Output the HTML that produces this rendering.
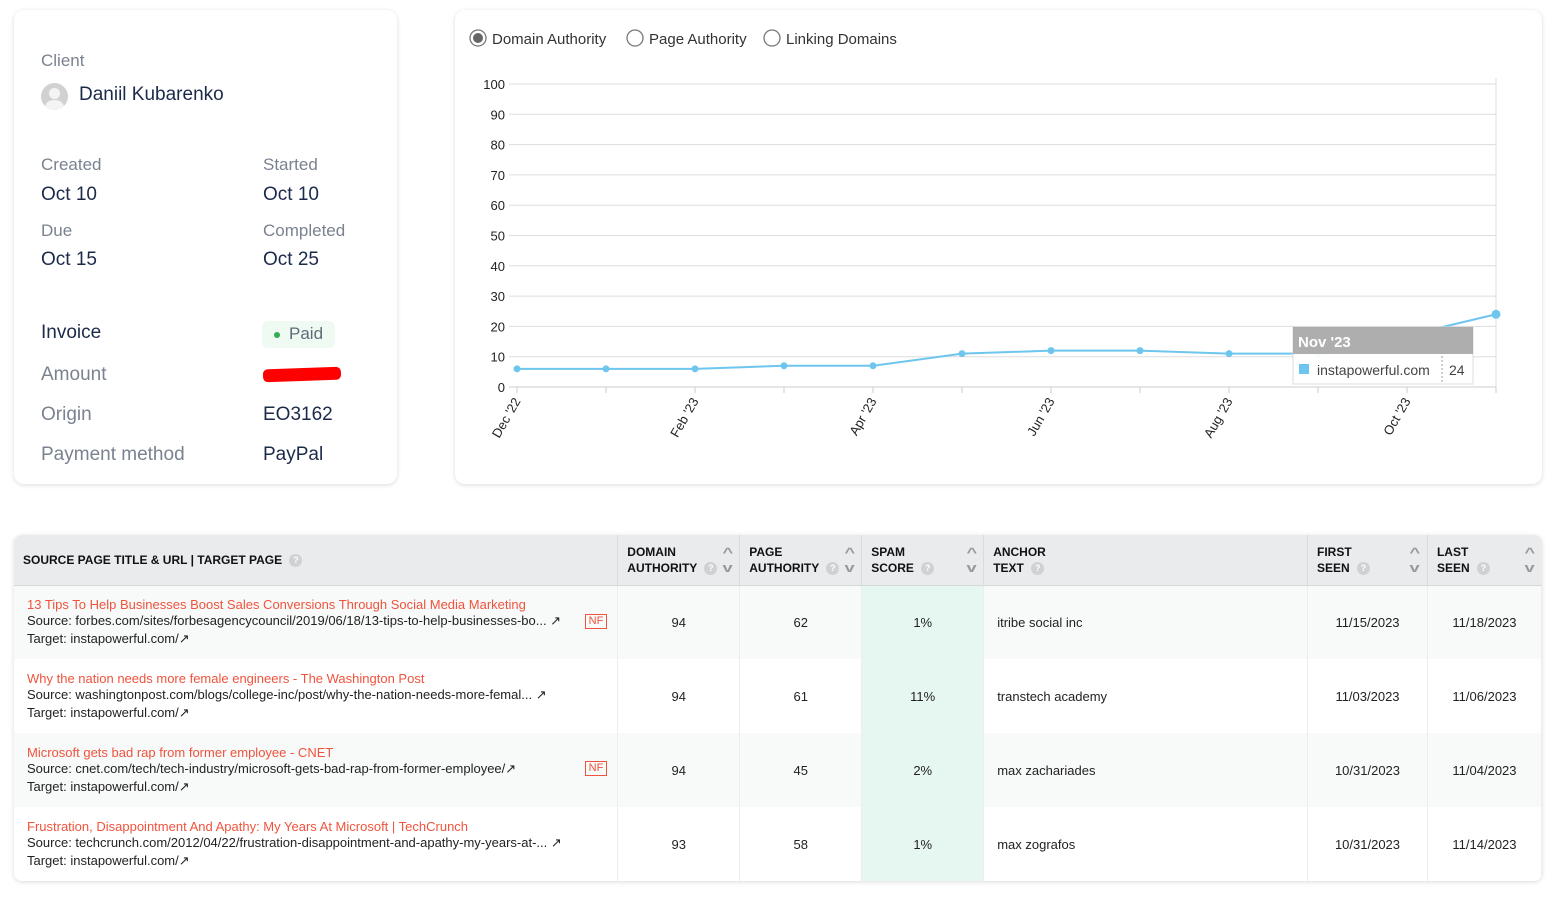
<!DOCTYPE html>
<html><head><meta charset="utf-8">
<style>
*{box-sizing:border-box;margin:0;padding:0}
body{width:1556px;height:899px;background:#fff;font-family:"Liberation Sans",sans-serif;position:relative;overflow:hidden;color:#1f2a44}
.card{position:absolute;background:#fff;border-radius:10px;box-shadow:0 1px 5px rgba(0,0,0,.15)}
.abs{position:absolute;white-space:nowrap}
.lbl{color:#7a8290;font-size:17px}
.val{color:#1c2a4a;font-size:19px}
.tw{position:absolute;left:14px;top:535px;width:1528px;height:346px;border-radius:8px;box-shadow:0 1px 5px rgba(0,0,0,.15);overflow:hidden}
table{border-collapse:collapse;width:1528px;font-size:13px;color:#222}
th{background:#e9ebec;height:50px;text-align:left;font-size:12px;font-weight:bold;color:#111;padding:0 9px;border-right:1px solid #d8dcdc;border-bottom:1px solid #d5d9d9;vertical-align:middle;position:relative;line-height:16px}
td{height:74px;border-right:1px solid #eceeee;vertical-align:middle}
tr.r td{background:#f8f9f9}
tr.w td{background:#fff}
td.c{text-align:center}
td.spam{background:#e6f6f1!important;text-align:center}
.q{display:inline-block;width:13px;height:13px;border-radius:50%;background:#cfd2d4;color:#fff;font-size:9px;text-align:center;line-height:13px;vertical-align:middle;margin-left:4px}
.sort{position:absolute;right:8px;top:10px;color:#999;font-size:13px;line-height:15px;transform:scaleX(1.4)}
.title{color:#f0533d;font-size:13px}
.line{font-size:13px;line-height:18px}
.nf{position:absolute;right:10px;top:28px;border:1px solid #f0533d;color:#f0533d;font-size:11px;padding:0 3px;line-height:13px}
</style></head><body>

<div class="card" style="left:14px;top:10px;width:383px;height:474px">
<div class="abs lbl" style="left:27px;top:41px">Client</div>
<div class="abs" style="left:27px;top:73px;width:27px;height:27px;border-radius:50%;background:#d1d1d1;overflow:hidden"><div style="position:absolute;left:8px;top:5px;width:11px;height:11px;border-radius:50%;background:#f4f4f4"></div><div style="position:absolute;left:4px;top:17px;width:19px;height:14px;border-radius:50%;background:#f4f4f4"></div></div>
<div class="abs val" style="left:65px;top:74px">Daniil Kubarenko</div>
<div class="abs lbl" style="left:27px;top:145px">Created</div>
<div class="abs val" style="left:27px;top:174px">Oct 10</div>
<div class="abs lbl" style="left:249px;top:145px">Started</div>
<div class="abs val" style="left:249px;top:174px">Oct 10</div>
<div class="abs lbl" style="left:27px;top:211px">Due</div>
<div class="abs val" style="left:27px;top:239px">Oct 15</div>
<div class="abs lbl" style="left:249px;top:211px">Completed</div>
<div class="abs val" style="left:249px;top:239px">Oct 25</div>
<div class="abs" style="left:27px;top:312px;font-size:19px;color:#1c2a4a">Invoice</div>
<div class="abs" style="left:248px;top:311px;width:73px;height:27px;border-radius:6px;background:#eefaf2;font-size:17px;color:#5f6a7a;padding:3px 0 0 27px"><span style="position:absolute;left:12px;top:11px;width:6px;height:6px;border-radius:50%;background:#2eb050"></span>Paid</div>
<div class="abs lbl" style="left:27px;top:354px;font-size:19px">Amount</div>
<div class="abs" style="left:249px;top:358px;width:78px;height:13px;background:#f00;border-radius:5px;transform:rotate(-2deg)"></div>
<div class="abs lbl" style="left:27px;top:394px;font-size:19px">Origin</div>
<div class="abs val" style="left:249px;top:394px">EO3162</div>
<div class="abs lbl" style="left:27px;top:434px;font-size:19px">Payment method</div>
<div class="abs val" style="left:249px;top:434px">PayPal</div>
</div>

<div class="card" style="left:455px;top:10px;width:1087px;height:474px">
<svg width="1087" height="474" style="position:absolute;left:0;top:0" id="chart"></svg>
</div>

<div class="tw">
<table>
<tr>
<th style="width:604px">SOURCE PAGE TITLE &amp; URL | TARGET PAGE <span class="q">?</span></th>
<th style="width:122px">DOMAIN<br>AUTHORITY <span class="q">?</span><span class="sort">^<br>v</span></th>
<th style="width:122px">PAGE<br>AUTHORITY <span class="q">?</span><span class="sort">^<br>v</span></th>
<th style="width:122px">SPAM<br>SCORE <span class="q">?</span><span class="sort">^<br>v</span></th>
<th style="width:324px">ANCHOR<br>TEXT <span class="q">?</span></th>
<th style="width:120px">FIRST<br>SEEN <span class="q">?</span><span class="sort">^<br>v</span></th>
<th style="width:114px;border-right:none">LAST<br>SEEN <span class="q">?</span><span class="sort">^<br>v</span></th>
</tr>
<tr class="r">
<td style="position:relative;padding-left:13px"><div class="title">13 Tips To Help Businesses Boost Sales Conversions Through Social Media Marketing</div><div class="line">Source: forbes.com/sites/forbesagencycouncil/2019/06/18/13-tips-to-help-businesses-bo... ↗</div><div class="line">Target: instapowerful.com/↗</div><span class="nf">NF</span></td>
<td class="c">94</td><td class="c">62</td><td class="spam">1%</td><td style="padding-left:13px">itribe social inc</td><td class="c">11/15/2023</td><td class="c">11/18/2023</td></tr>
<tr class="w">
<td style="position:relative;padding-left:13px"><div class="title">Why the nation needs more female engineers - The Washington Post</div><div class="line">Source: washingtonpost.com/blogs/college-inc/post/why-the-nation-needs-more-femal... ↗</div><div class="line">Target: instapowerful.com/↗</div></td>
<td class="c">94</td><td class="c">61</td><td class="spam">11%</td><td style="padding-left:13px">transtech academy</td><td class="c">11/03/2023</td><td class="c">11/06/2023</td></tr>
<tr class="r">
<td style="position:relative;padding-left:13px"><div class="title">Microsoft gets bad rap from former employee - CNET</div><div class="line">Source: cnet.com/tech/tech-industry/microsoft-gets-bad-rap-from-former-employee/↗</div><div class="line">Target: instapowerful.com/↗</div><span class="nf">NF</span></td>
<td class="c">94</td><td class="c">45</td><td class="spam">2%</td><td style="padding-left:13px">max zachariades</td><td class="c">10/31/2023</td><td class="c">11/04/2023</td></tr>
<tr class="w">
<td style="position:relative;padding-left:13px"><div class="title">Frustration, Disappointment And Apathy: My Years At Microsoft | TechCrunch</div><div class="line">Source: techcrunch.com/2012/04/22/frustration-disappointment-and-apathy-my-years-at-... ↗</div><div class="line">Target: instapowerful.com/↗</div></td>
<td class="c">93</td><td class="c">58</td><td class="spam">1%</td><td style="padding-left:13px">max zografos</td><td class="c">10/31/2023</td><td class="c">11/14/2023</td></tr>
</table>
</div>

<script>
const months = ["Dec '22","Jan '23","Feb '23","Mar '23","Apr '23","May '23","Jun '23","Jul '23","Aug '23","Sep '23","Oct '23","Nov '23"];
const daValues = [6,6,6,7,7,11,12,12,11,11,17,24];
const yTicks = [0,10,20,30,40,50,60,70,80,90,100];
const radioLabels = ["Domain Authority","Page Authority","Linking Domains"];
const tipIndex = 11;

const svg = document.getElementById('chart');
const NS = 'http://www.w3.org/2000/svg';
const X0 = 62, X1 = 1041, Y0 = 377, Y1 = 74;
const xs = i => X0 + (X1 - X0) * i / (months.length - 1);
const ys = v => Y0 - (Y0 - Y1) * v / 100;
function mk(tag, attrs, txt){const e=document.createElementNS(NS,tag);for(const k in attrs)e.setAttribute(k,attrs[k]);if(txt!==undefined)e.textContent=txt;svg.appendChild(e);return e;}

let rx = 14;
const rw = [157, 137, 140];
radioLabels.forEach((l,i)=>{
  const c = mk('circle',{cx:rx+9,cy:28,r:8,fill:'#fff',stroke:'#777','stroke-width':1.3});
  
  
  if(i===0){const d=mk('circle',{cx:rx+9,cy:28,r:5,fill:'#666'});}
  const t = mk('text',{x:rx+23,y:34,'font-size':15,fill:'#333','font-family':'Liberation Sans'},l);
  
  
  rx += rw[i];
});

yTicks.forEach(v=>{
  const g = mk('line',{x1:X0-8,x2:X1,y1:ys(v),y2:ys(v),stroke:v===0?'#ccc':'#ddd','stroke-width':1});
  
  
  const t = mk('text',{x:X0-12,y:ys(v)+5,'font-size':13,fill:'#222','text-anchor':'end','font-family':'Liberation Sans'},v);
  
  
});
const vb = mk('line',{x1:X1,x2:X1,y1:Y1-6,y2:Y0,stroke:'#ddd'});



months.forEach((m,i)=>{
  const tk = mk('line',{x1:xs(i),x2:xs(i),y1:Y0,y2:Y0+6,stroke:'#ccc'});
  
  
  if(i%2===0){
    const x=xs(i)+4, y=Y0+14;
    const t = mk('text',{x:x,y:y,'font-size':13,fill:'#222','text-anchor':'end','font-family':'Liberation Sans',transform:`rotate(-60 ${x} ${y})`},m);
    
    
  }
});

const pts = daValues.map((v,i)=>xs(i)+','+ys(v)).join(' ');
const pl = mk('polyline',{points:pts,fill:'none',stroke:'#6ec6ee','stroke-width':2});


daValues.forEach((v,i)=>{
  const c = mk('circle',{cx:xs(i),cy:ys(v),r:i===tipIndex?4.5:3.5,fill:'#6ec6ee'});
  
  
});

// tooltip
const tx = 838, ty = 317;
const tb = mk('rect',{x:tx,y:ty,width:180,height:57,fill:'rgba(255,255,255,0.92)',stroke:'#ddd'});


const th = mk('rect',{x:tx,y:ty,width:180,height:27,fill:'rgba(160,160,160,0.85)'});


const tt = mk('text',{x:tx+5,y:ty+20,'font-size':15,'font-weight':'bold',fill:'#fff','font-family':'Liberation Sans'},months[tipIndex]);


const sq = mk('rect',{x:tx+6,y:ty+37,width:10,height:10,fill:'#6ec6ee'});


const tn = mk('text',{x:tx+24,y:ty+48,'font-size':14,fill:'#444','font-family':'Liberation Sans'},'instapowerful.com');


const dl = mk('line',{x1:tx+149,x2:tx+149,y1:ty+29,y2:ty+57,stroke:'#999','stroke-dasharray':'2,2'});


const tv = mk('text',{x:tx+156,y:ty+48,'font-size':14,fill:'#444','font-family':'Liberation Sans'},daValues[tipIndex]);


</script>
</body></html>
